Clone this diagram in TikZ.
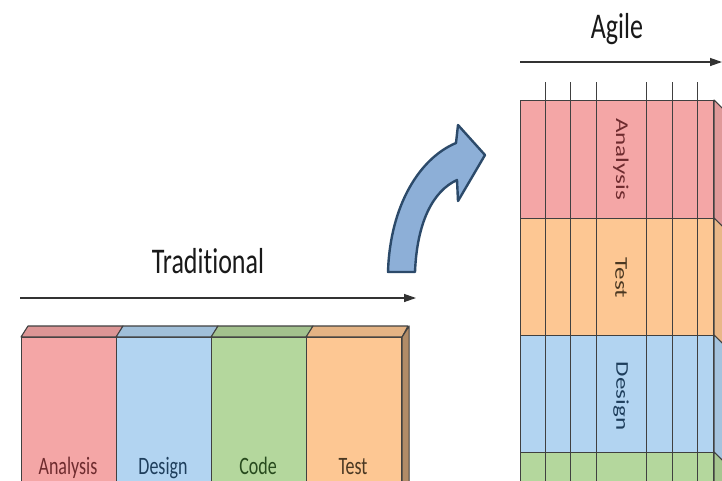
\documentclass[tikz,border=0pt]{standalone}
\usepackage{fontspec}
\setmainfont{Carlito}[Ligatures=NoCommon]
\usetikzlibrary{positioning,arrows.meta}
\definecolor{redph}{HTML}{F4A6A6}
\definecolor{blueph}{HTML}{B2D4F1}
\definecolor{greenph}{HTML}{B4D79D}
\definecolor{orangeph}{HTML}{FDC793}
\definecolor{redtx}{HTML}{6E2B2E}
\definecolor{bluetx}{HTML}{1E3E5C}
\definecolor{greentx}{HTML}{284A1E}
\definecolor{orangetx}{HTML}{4A3822}
\definecolor{bendfill}{HTML}{8DAFD7}
\definecolor{benddraw}{HTML}{2C4A6A}
\tikzset{
  phase/.style={draw=black!75, line width=1.1pt, anchor=north west, inner sep=0pt},
  face/.style={draw=black!75, line width=1.1pt, line join=round},
  timeline/.style={line width=1.3pt, draw=black!80, -{Triangle[length=12pt,width=8pt]}},
  tall/.style={yscale=1.39},
  heading/.style={tall, anchor=base, font=\fontsize{26}{30}\selectfont, text=black!90},
  phaselabel/.style={tall, font=\fontsize{18}{22}\selectfont},
  gridline/.style={draw=black!75, line width=1pt}
}
\begin{document}
\begin{tikzpicture}[x=1pt, y=-1pt]
      \useasboundingbox (0,0) rectangle (722,480);
      \fill[white] (0,0) rectangle (722,480);
      % traditional
      \coordinate (tfrom) at (20,298);
      \coordinate (tto) at (416,298);
      \draw[timeline] (tfrom) -- (tto);
      \node[heading] (trad) at (208,273) {Traditional};
      \node[phase, fill=redph, minimum width=95pt, minimum height=170pt] (ana) at (21,337) {};
      \node[phase, fill=blueph, minimum width=95pt, minimum height=170pt] (des) at (116,337) {};
      \node[phase, fill=greenph, minimum width=95pt, minimum height=170pt] (cod) at (211,337) {};
      \node[phase, fill=orangeph, minimum width=95pt, minimum height=170pt] (tst) at (306,337) {};
      \begin{scope}[face]
        \draw[fill=redph!90!black] (ana.north west) -- ++(7,-11) -- ++(95,0) -- (ana.north east) -- cycle;
        \draw[fill=blueph!90!black] (des.north west) -- ++(7,-11) -- ++(95,0) -- (des.north east) -- cycle;
        \draw[fill=greenph!90!black] (cod.north west) -- ++(7,-11) -- ++(95,0) -- (cod.north east) -- cycle;
        \draw[fill=orangeph!90!black] (tst.north west) -- ++(7,-11) -- ++(95,0) -- (tst.north east) -- cycle;
        \draw[fill=orangeph!70!black] (tst.north east) -- ++(7,-11) -- ++(0,181) -- (tst.south east) -- cycle;
      \end{scope}
      \node[phaselabel, anchor=base, text=redtx] (analbl) at (68,474) {Analysis};
      \node[phaselabel, anchor=base, text=bluetx] (deslbl) at (163,474) {Design};
      \node[phaselabel, anchor=base, text=greentx] (codlbl) at (258,474) {Code};
      \node[phaselabel, anchor=base, text=orangetx] (tstlbl) at (353,474) {Test};
      % bend
      \draw[line width=2.4pt, draw=benddraw, fill=bendfill, line join=round]
        (388,272) .. controls (390,205) and (420,158) .. (456,143)
        -- (458,125) -- (485,155) -- (458,201) -- (457,180)
        .. controls (433,191) and (417,222) .. (415,272) -- cycle;
      % agile
      \coordinate (afrom) at (520,62);
      \coordinate (ato) at (722,62);
      \draw[timeline] (afrom) -- (ato);
      \node[heading] (agile) at (617,38) {Agile};
      \node[phase, fill=redph, minimum width=193pt, minimum height=118pt] (lana) at (520,100) {};
      \node[phase, fill=orangeph, minimum width=193pt, minimum height=117pt] (ltst) at (520,218) {};
      \node[phase, fill=blueph, minimum width=193pt, minimum height=117pt] (ldes) at (520,335) {};
      \node[phase, fill=greenph, minimum width=193pt, minimum height=117pt] (lcod) at (520,452) {};
      \begin{scope}[face]
        \draw[fill=redph!92!black] (lana.north east) -- ++(9,9) -- ++(0,118) -- (lana.south east) -- cycle;
        \draw[fill=orangeph!92!black] (ltst.north east) -- ++(9,9) -- ++(0,117) -- (ltst.south east) -- cycle;
        \draw[fill=blueph!92!black] (ldes.north east) -- ++(9,9) -- ++(0,117) -- (ldes.south east) -- cycle;
        \draw[fill=greenph!92!black] (lcod.north east) -- ++(9,9) -- ++(0,117) -- (lcod.south east) -- cycle;
      \end{scope}
      \foreach \x in {545,570,596,646,672,697}
        \draw[gridline] (\x,82) -- (\x,490);
      \node[phaselabel, rotate=-90, text=redtx] (lanalbl) at (621,159) {Analysis};
      \node[phaselabel, rotate=-90, text=orangetx] (ltstlbl) at (621,278) {Test};
      \node[phaselabel, rotate=-90, text=bluetx] (ldeslbl) at (621,396) {Design};
    \end{tikzpicture}
\end{document}
